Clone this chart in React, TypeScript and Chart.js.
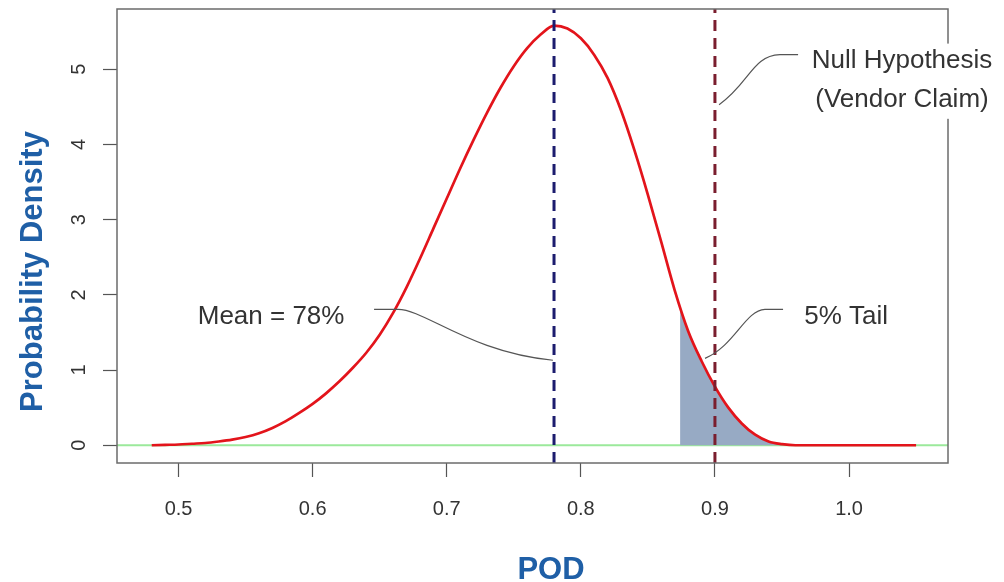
import React, { useEffect, useRef } from 'react';
import { Chart, registerables } from 'chart.js';

Chart.register(...registerables);

// ---------- data ----------
const podX = [
  0.48, 0.49, 0.5, 0.51, 0.52, 0.53, 0.54, 0.55, 0.56, 0.57, 0.58, 0.59,
  0.6, 0.61, 0.62, 0.63, 0.64, 0.65, 0.66, 0.67, 0.68, 0.69,
  0.7, 0.71, 0.72, 0.73, 0.74, 0.75, 0.76, 0.77, 0.78, 0.79,
  0.8, 0.81, 0.82, 0.83, 0.84, 0.85, 0.86, 0.87, 0.88, 0.89,
  0.9, 0.91, 0.92, 0.93, 0.94, 0.95, 0.96, 0.97, 0.98, 0.99,
  1.0, 1.01, 1.02, 1.03, 1.04, 1.05,
];
const density = [
  0.0, 0.005, 0.01, 0.02, 0.03, 0.05, 0.075, 0.11, 0.16, 0.23, 0.32, 0.43,
  0.55, 0.69, 0.85, 1.03, 1.23, 1.47, 1.76, 2.1, 2.48, 2.88,
  3.28, 3.68, 4.06, 4.42, 4.75, 5.04, 5.28, 5.46, 5.58, 5.54,
  5.41, 5.19, 4.88, 4.45, 3.92, 3.33, 2.7, 2.06, 1.52, 1.12,
  0.78, 0.5, 0.29, 0.14, 0.05, 0.015, 0.0, 0.0, 0.0, 0.0,
  0.0, 0.0, 0.0, 0.0, 0.0, 0.0,
];
const tailX = [0.874, 0.88, 0.89, 0.9, 0.91, 0.92, 0.93, 0.94, 0.95, 0.96];
const tailY = [1.8, 1.52, 1.12, 0.78, 0.5, 0.29, 0.14, 0.05, 0.015, 0.0];
const meanPOD = 0.78;
const nullPOD = 0.9;
const xTicks = [0.5, 0.6, 0.7, 0.8, 0.9, 1.0];
const yTicks = [0, 1, 2, 3, 4, 5];
const xLimits = [0.4541, 1.0738];
const yLimits = [-0.236, 5.8];

const xTitle = 'POD';
const yTitle = 'Probability Density';
const meanLabel = ['Mean = 78%'];
const tailLabel = ['5% Tail'];
const nullLabel = ['Null Hypothesis', '(Vendor Claim)'];

// annotation anchors (data units)
const meanLabelPos = [0.569, 1.607];
const tailLabelPos = [0.9978, 1.607];
const nullLabelPos = [1.0395, 5.013, 4.495];
const meanPointer = [
  [[0.6458, 1.806]],
  [[0.6637, 1.806]],
  [[0.6838, 1.806], [0.7174, 1.235], [0.7792, 1.13]],
];
const tailPointer = [
  [[0.8926, 1.155]],
  [[0.915, 1.328], [0.9224, 1.793], [0.9373, 1.806]],
  [[0.9508, 1.806]],
];
const nullPointer = [
  [[0.9031, 4.528]],
  [[0.9262, 4.821], [0.9277, 5.179], [0.9485, 5.193]],
  [[0.962, 5.193]],
];
const nullBox = [0.962, 1.13, 5.34, 4.34];

const FONT = '"Liberation Sans", Arial, Helvetica, sans-serif';
const TITLE_BLUE = '#1f5fa6';
const TEXT = '#333333';

const annotationPlugin = {
  id: 'annotations',
  afterDraw(chart: any) {
    const { ctx, chartArea, scales } = chart;
    const xs = scales.x;
    const ys = scales.y;
    const px = (v: number) => xs.getPixelForValue(v);
    const py = (v: number) => ys.getPixelForValue(v);

    ctx.save();
    // plot box
    ctx.strokeStyle = '#6b6b6b';
    ctx.lineWidth = 1.5;
    ctx.strokeRect(chartArea.left, chartArea.top, chartArea.right - chartArea.left, chartArea.bottom - chartArea.top);

    // white background behind null label
    ctx.fillStyle = '#ffffff';
    ctx.fillRect(px(nullBox[0]), py(nullBox[2]), px(nullBox[1]) - px(nullBox[0]), py(nullBox[3]) - py(nullBox[2]));

    // pointers
    const drawPointer = (segs: number[][][]) => {
      ctx.beginPath();
      segs.forEach((seg, i) => {
        if (i === 0) ctx.moveTo(px(seg[0][0]), py(seg[0][1]));
        else if (seg.length === 1) ctx.lineTo(px(seg[0][0]), py(seg[0][1]));
        else ctx.bezierCurveTo(px(seg[0][0]), py(seg[0][1]), px(seg[1][0]), py(seg[1][1]), px(seg[2][0]), py(seg[2][1]));
      });
      ctx.strokeStyle = '#555555';
      ctx.lineWidth = 1.2;
      ctx.stroke();
    };
    drawPointer(meanPointer);
    drawPointer(tailPointer);
    drawPointer(nullPointer);

    // labels
    ctx.fillStyle = TEXT;
    ctx.font = `26px ${FONT}`;
    ctx.textAlign = 'center';
    ctx.textBaseline = 'alphabetic';
    ctx.fillText(meanLabel[0], px(meanLabelPos[0]), py(meanLabelPos[1]));
    ctx.fillText(tailLabel[0], px(tailLabelPos[0]), py(tailLabelPos[1]));
    ctx.fillText(nullLabel[0], px(nullLabelPos[0]), py(nullLabelPos[1]));
    ctx.fillText(nullLabel[1], px(nullLabelPos[0]), py(nullLabelPos[2]));

    // axis titles
    ctx.fillStyle = TITLE_BLUE;
    ctx.font = `bold 31px ${FONT}`;
    ctx.fillText(xTitle, 551, 579);
    ctx.translate(42, 271.5);
    ctx.rotate(-Math.PI / 2);
    ctx.fillText(yTitle, 0, 0);
    ctx.restore();
  },
};

export default function App() {
  const canvasRef = useRef<HTMLCanvasElement | null>(null);

  useEffect(() => {
    const canvas = canvasRef.current;
    if (!canvas) return;
    const curve = podX.map((x, i) => ({ x, y: density[i] }));
    const tail = tailX.map((x, i) => ({ x, y: tailY[i] }));
    const chart = new Chart(canvas, {
      type: 'scatter',
      data: {
        datasets: [
          {
            label: 'mean',
            data: [{ x: meanPOD, y: yLimits[0] }, { x: meanPOD, y: yLimits[1] }],
            showLine: true,
            borderColor: '#1c1c6e',
            borderWidth: 3,
            borderDash: [11, 7],
            pointRadius: 0,
            order: 0,
          },
          {
            label: 'null',
            data: [{ x: nullPOD, y: yLimits[0] }, { x: nullPOD, y: yLimits[1] }],
            showLine: true,
            borderColor: '#7a1e2e',
            borderWidth: 3,
            borderDash: [11, 7],
            pointRadius: 0,
            order: 0,
          },
          {
            label: 'density',
            data: curve,
            showLine: true,
            borderColor: '#e3141b',
            borderWidth: 2.7,
            pointRadius: 0,
            cubicInterpolationMode: 'monotone',
            order: 1,
          },
          {
            label: 'tail',
            data: tail,
            showLine: true,
            borderWidth: 0,
            borderColor: 'rgba(0,0,0,0)',
            backgroundColor: '#97aac4',
            fill: 'origin',
            pointRadius: 0,
            cubicInterpolationMode: 'monotone',
            order: 2,
          },
          {
            label: 'zero',
            data: [{ x: xLimits[0], y: 0 }, { x: xLimits[1], y: 0 }],
            showLine: true,
            borderColor: '#9be99b',
            borderWidth: 2,
            pointRadius: 0,
            order: 3,
          },
        ],
      },
      options: {
        responsive: false,
        animation: false,
        layout: { padding: { top: 9, right: 56, left: 0, bottom: 0 } },
        plugins: {
          legend: { display: false },
          tooltip: { enabled: false },
        },
        scales: {
          x: {
            type: 'linear',
            min: xLimits[0],
            max: xLimits[1],
            afterBuildTicks: (scale: any) => {
              scale.ticks = xTicks.map((v) => ({ value: v }));
            },
            afterFit: (scale: any) => {
              scale.height = 119;
              scale.paddingLeft = 0;
              scale.paddingRight = 0;
            },
            grid: {
              drawOnChartArea: false,
              drawTicks: true,
              tickLength: 14,
              tickColor: '#555555',
              tickWidth: 1.2,
            },
            border: { display: false },
            ticks: {
              callback: (v: any) => Number(v).toFixed(1),
              font: { family: FONT, size: 20 },
              color: TEXT,
              padding: 20,
              maxRotation: 0,
              minRotation: 0,
            },
          },
          y: {
            type: 'linear',
            min: yLimits[0],
            max: yLimits[1],
            afterBuildTicks: (scale: any) => {
              scale.ticks = yTicks.map((v) => ({ value: v }));
            },
            afterFit: (scale: any) => {
              scale.width = 117;
              scale.paddingTop = 0;
              scale.paddingBottom = 0;
            },
            grid: {
              drawOnChartArea: false,
              drawTicks: true,
              tickLength: 14,
              tickColor: '#555555',
              tickWidth: 1.2,
            },
            border: { display: false },
            ticks: {
              callback: (v: any) => String(v),
              font: { family: FONT, size: 20 },
              color: TEXT,
              padding: 18,
              crossAlign: 'center',
              minRotation: 90,
              maxRotation: 90,
            },
          },
        },
      },
      plugins: [annotationPlugin],
    } as any);
    return () => chart.destroy();
  }, []);

  return (
    <div style={{ position: 'fixed', left: 0, top: 0, width: 1004, height: 582, background: '#fff' }}>
      <canvas ref={canvasRef} width={1004} height={582} />
    </div>
  );
}
